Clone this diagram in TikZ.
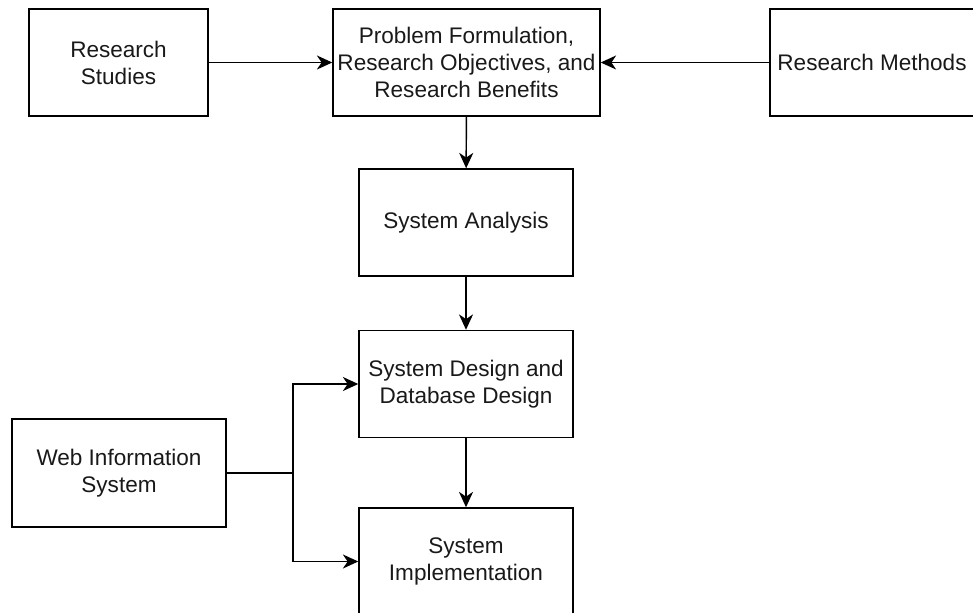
\documentclass[tikz,border=0pt]{standalone}
\usepackage{fontspec}
\setmainfont{Liberation Sans}
\usetikzlibrary{arrows.meta}
\begin{document}
\begin{tikzpicture}[x=0.75pt,y=-0.75pt,
  box/.style={draw=black, line width=1.1pt, fill=white, align=center, inner sep=0pt,
    text=black!90, font=\fontsize{16.9}{20.25}\selectfont, minimum height=80.25pt},
  arr/.style={-{Stealth[length=11.5pt,width=10.5pt,inset=3.5pt]}, line width=1.1pt},
  conn/.style={line width=1.1pt}]
\useasboundingbox (0,0) rectangle (973,613);
\node[box, minimum width=134.25pt] (rs) at (118.5,62.5) {Research\\Studies};
\node[box, minimum width=200.25pt] (pf) at (466.5,62.5) {Problem Formulation,\\Research Objectives, and\\Research Benefits};
\node[box, minimum width=153pt] (rm) at (872,62.5) {Research Methods};
\node[box, minimum width=160.5pt] (sa) at (466,222.5) {System Analysis};
\node[box, minimum width=160.5pt] (sd) at (466,384) {System Design and\\Database Design};
\node[box, minimum width=160.5pt] (si) at (466,561.5) {System\\Implementation};
\node[box, minimum width=160.5pt, minimum height=81pt] (wis) at (119,473) {Web Information\\System};
\coordinate (j) at (293,473);
\draw[arr] (rs) -- (pf);
\draw[arr] (rm) -- (pf);
\draw[arr] (pf) -- (sa);
\draw[arr] (sa) -- (sd);
\draw[arr] (sd) -- (si);
\draw[conn] (wis) -- (j);
\draw[arr] (j) |- (sd.west);
\draw[arr] (j) |- (si.west);
\end{tikzpicture}
\end{document}
